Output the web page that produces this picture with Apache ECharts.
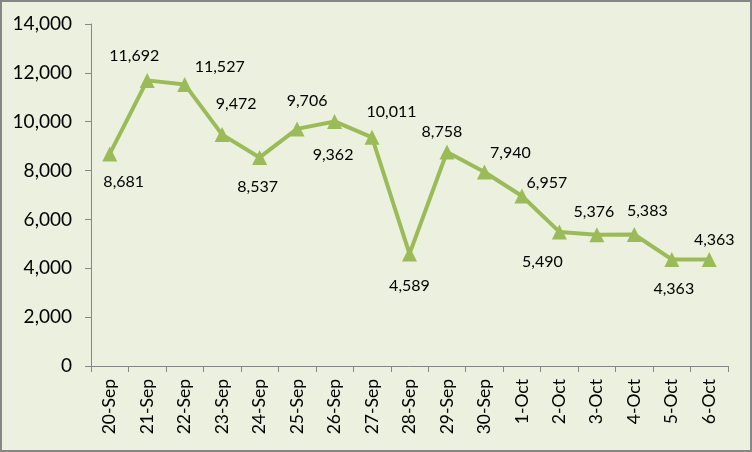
<!DOCTYPE html>
<html>
<head>
<meta charset="utf-8">
<script src="https://cdn.jsdelivr.net/npm/echarts@6/dist/echarts.min.js"></script>
<style>
  html, body { margin: 0; padding: 0; background: #EBF1DE; }
  #chart { width: 752px; height: 452px; }
</style>
</head>
<body>
<div id="chart"></div>
<script>
// data
const dates = ['20-Sep', '21-Sep', '22-Sep', '23-Sep', '24-Sep', '25-Sep', '26-Sep', '27-Sep', '28-Sep',
  '29-Sep', '30-Sep', '1-Oct', '2-Oct', '3-Oct', '4-Oct', '5-Oct', '6-Oct'];
const counts = [8681, 11692, 11527, 9472, 8537, 9706, 10011, 9362, 4589, 8758, 7940, 6957, 5490, 5376, 5383, 4363, 4363];
const yTicks = [0, 2000, 4000, 6000, 8000, 10000, 12000, 14000];

// where each data label sits relative to its marker (px)
const labelOffsets = [
  [14, 28], [-13, -25], [35, -18], [14, -31], [-2, 29], [10, -28], [57, -10], [-39, 18], [0, 32],
  [-5, -20], [26, -19], [25, -13], [-17, 30], [-3, -23], [13, -24], [2, 29], [5, -20],
];

const font = 'Lato, "Open Sans", sans-serif';
const myChart = echarts.init(document.getElementById('chart'));

const option = {
  backgroundColor: '#EBF1DE',
  animation: false,
  textStyle: { fontFamily: font },
  grid: { left: 91, right: 24, top: 24, bottom: 86, containLabel: false },
  graphic: [{
    type: 'rect',
    shape: { x: 1, y: 1, width: 750, height: 450 },
    style: { fill: 'none', stroke: '#868686', lineWidth: 2 },
  }],
  xAxis: {
    type: 'category',
    data: dates,
    boundaryGap: true,
    axisLine: { lineStyle: { color: '#868686', width: 1 } },
    axisTick: { show: true, length: 6, lineStyle: { color: '#868686' } },
    axisLabel: { rotate: 90, margin: 13, color: '#000', fontSize: 17.5, fontFamily: font, interval: 0 },
  },
  yAxis: {
    type: 'value',
    min: yTicks[0],
    max: yTicks[yTicks.length - 1],
    interval: yTicks[1] - yTicks[0],
    splitLine: { show: false },
    axisLine: { show: true, lineStyle: { color: '#868686', width: 1 } },
    axisTick: { show: true, length: 6, lineStyle: { color: '#868686' } },
    axisLabel: {
      margin: 19,
      color: '#000',
      fontSize: 19,
      fontFamily: font,
      formatter: v => v.toLocaleString('en-US'),
    },
  },
  series: [{
    type: 'line',
    data: counts.map((v, i) => ({
      value: v,
      label: { offset: labelOffsets[i] },
    })),
    symbol: 'triangle',
    symbolSize: [15, 15],
    lineStyle: { color: '#9BBB59', width: 4 },
    itemStyle: { color: '#9BBB59' },
    label: {
      show: true,
      position: 'inside',
      color: '#000',
      fontSize: 16,
      fontFamily: font,
      formatter: p => p.value.toLocaleString('en-US'),
    },
    emphasis: { disabled: true },
  }],
};

myChart.setOption(option);
window.addEventListener('resize', myChart.resize);
</script>
</body>
</html>
